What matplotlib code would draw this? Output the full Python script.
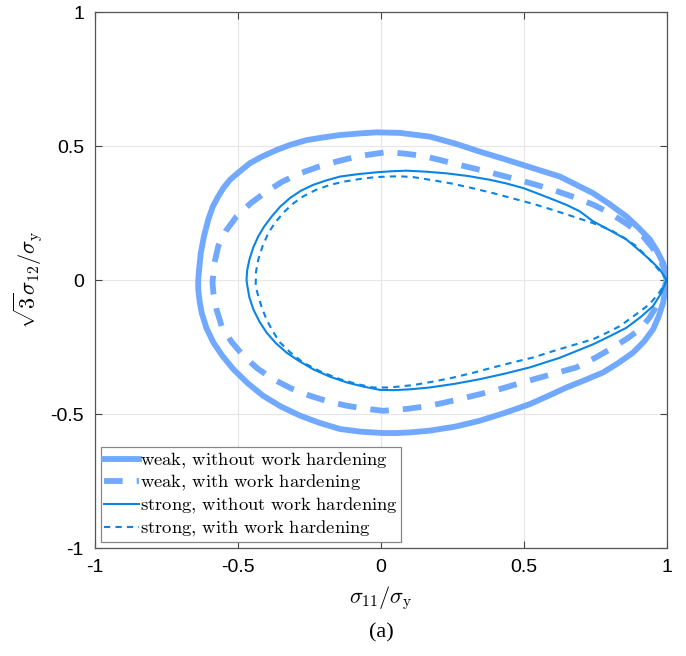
import matplotlib.pyplot as plt
import numpy as np

plt.rcParams['mathtext.fontset'] = 'cm'
plt.rcParams['font.family'] = ['Liberation Sans', 'DejaVu Sans']

# weak texture, without work hardening (thick solid)
weak_x = [1.0, 0.995, 0.987, 0.966, 0.941, 0.90, 0.859, 0.80, 0.742, 0.626, 0.56, 0.498, 0.42, 0.346, 0.26,
          0.171, 0.066, -0.015, -0.073, -0.143, -0.202, -0.260, -0.318, -0.365, -0.417, -0.458, -0.495, -0.528,
          -0.551, -0.569, -0.588, -0.604, -0.619, -0.630, -0.636, -0.639, -0.639, -0.634, -0.627, -0.61, -0.586,
          -0.553, -0.516, -0.466, -0.412, -0.35, -0.283, -0.215, -0.143, -0.07, 0.008, 0.055, 0.11, 0.171, 0.26,
          0.346, 0.43, 0.521, 0.59, 0.649, 0.71, 0.777, 0.83, 0.882, 0.92, 0.952, 0.972, 0.987, 0.995, 1.0]
weak_y = [0.0, 0.03, 0.064, 0.108, 0.151, 0.196, 0.237, 0.283, 0.324, 0.386, 0.408, 0.429, 0.455, 0.479, 0.509,
          0.535, 0.549, 0.551, 0.547, 0.541, 0.532, 0.522, 0.504, 0.485, 0.460, 0.436, 0.404, 0.374,
          0.343, 0.312, 0.274, 0.225, 0.163, 0.101, 0.039, 0.0, -0.035, -0.08, -0.122, -0.18, -0.233,
          -0.285, -0.333, -0.385, -0.432, -0.472, -0.506, -0.533, -0.556, -0.566, -0.571, -0.571, -0.568, -0.562,
          -0.547, -0.525, -0.497, -0.463, -0.43, -0.401, -0.375, -0.345, -0.31, -0.271, -0.23, -0.184, -0.135,
          -0.085, -0.035, 0.0]

# weak texture, with work hardening (thick dashed)
weakh_x = [1.0, 0.992, 0.976, 0.95, 0.917, 0.862, 0.801, 0.745, 0.684, 0.614, 0.544, 0.48, 0.416, 0.346, 0.276,
           0.21, 0.148, 0.08, 0.020, -0.08, -0.155, -0.22, -0.283, -0.345, -0.400, -0.455, -0.505, -0.543, -0.569,
           -0.583, -0.589, -0.586, -0.575, -0.557, -0.523, -0.481, -0.432, -0.377, -0.313, -0.248, -0.185, -0.120,
           -0.055, 0.008, 0.09, 0.160, 0.22, 0.276, 0.346, 0.416, 0.486, 0.556, 0.62, 0.684, 0.75, 0.812, 0.862,
           0.906, 0.94, 0.964, 0.985, 1.0]
weakh_y = [0.0, 0.04, 0.076, 0.12, 0.163, 0.208, 0.250, 0.28, 0.306, 0.332, 0.355, 0.374, 0.392, 0.411, 0.429,
           0.447, 0.463, 0.472, 0.477, 0.462, 0.442, 0.422, 0.398, 0.367, 0.330, 0.287, 0.237, 0.182, 0.126,
           0.06, -0.01, -0.048, -0.11, -0.172, -0.23, -0.283, -0.33, -0.370, -0.405, -0.432, -0.453, -0.469,
           -0.48, -0.488, -0.481, -0.471, -0.458, -0.444, -0.426, -0.407, -0.385, -0.364, -0.345, -0.326, -0.29,
           -0.252, -0.218, -0.184, -0.14, -0.097, -0.05, 0.0]

# strong texture, without work hardening (thin solid)
strong_x = [1.0, 0.975, 0.941, 0.90, 0.859, 0.80, 0.742, 0.696, 0.65, 0.603, 0.55, 0.498, 0.44, 0.381, 0.305,
            0.230, 0.16, 0.090, 0.04, -0.015, -0.08, -0.143, -0.19, -0.237, -0.28, -0.318, -0.352, -0.382, -0.408,
            -0.429, -0.447, -0.460, -0.468, -0.470, -0.467, -0.46, -0.446, -0.425, -0.400, -0.368, -0.330, -0.285,
            -0.237, -0.18, -0.120, -0.06, -0.003, 0.043, 0.10, 0.171, 0.26, 0.346, 0.435, 0.521, 0.626, 0.684,
            0.742, 0.80, 0.859, 0.91, 0.952, 0.98, 1.0]
strong_y = [0.0, 0.04, 0.076, 0.114, 0.151, 0.186, 0.219, 0.256, 0.28, 0.300, 0.322, 0.343, 0.36, 0.374, 0.388,
            0.398, 0.404, 0.408, 0.406, 0.402, 0.395, 0.386, 0.372, 0.355, 0.333, 0.306, 0.274, 0.237, 0.20,
            0.163, 0.12, 0.076, 0.035, 0.0, -0.023, -0.065, -0.110, -0.155, -0.196, -0.235, -0.271, -0.303,
            -0.333, -0.36, -0.382, -0.398, -0.410, -0.411, -0.408, -0.401, -0.387, -0.370, -0.349, -0.326, -0.29,
            -0.265, -0.240, -0.21, -0.178, -0.137, -0.097, -0.05, 0.0]

# strong texture, with work hardening (thin dashed)
strongh_x = [1.0, 0.97, 0.94, 0.894, 0.85, 0.801, 0.74, 0.672, 0.60, 0.533, 0.463, 0.393, 0.323, 0.253, 0.183,
             0.113, 0.066, 0.020, -0.027, -0.073, -0.125, -0.178, -0.228, -0.272, -0.31, -0.342, -0.37, -0.394,
             -0.414, -0.429, -0.437, -0.438, -0.429, -0.416, -0.400, -0.379, -0.353, -0.315, -0.272, -0.21, -0.143,
             -0.085, -0.027, 0.031, 0.113, 0.183, 0.253, 0.323, 0.393, 0.463, 0.533, 0.60, 0.672, 0.742, 0.79,
             0.836, 0.89, 0.94, 0.975, 1.0]
strongh_y = [0.0, 0.04, 0.076, 0.126, 0.158, 0.188, 0.213, 0.237, 0.262, 0.284, 0.304, 0.324, 0.342, 0.359, 0.372,
             0.384, 0.387, 0.386, 0.383, 0.377, 0.368, 0.355, 0.336, 0.312, 0.283, 0.250, 0.214, 0.175, 0.126,
             0.076, 0.03, -0.023, -0.060, -0.105, -0.147, -0.19, -0.233, -0.272, -0.308, -0.342, -0.370, -0.388,
             -0.401, -0.401, -0.392, -0.379, -0.364, -0.346, -0.326, -0.307, -0.289, -0.266, -0.243, -0.221, -0.197,
             -0.172, -0.13, -0.09, -0.045, 0.0]

labels = [r'$\mathrm{weak,\,without\ work\ hardening}$',
          r'$\mathrm{weak,\,with\ work\ hardening}$',
          r'$\mathrm{strong,\,without\ work\ hardening}$',
          r'$\mathrm{strong,\,with\ work\ hardening}$']

c_weak = '#70A9FF'
c_strong = '#0A84E6'

fig = plt.figure(figsize=(6.86, 6.56), dpi=100)
ax = fig.add_axes([0.1385, 0.1646, 0.8335, 0.8171])

ax.plot(weak_x, weak_y, '-', color=c_weak, lw=4.2, solid_joinstyle='round', label=labels[0])
ax.plot(weakh_x, weakh_y, '--', color=c_weak, lw=4.2, dashes=(3.2, 2.4), label=labels[1])
ax.plot(strong_x, strong_y, '-', color=c_strong, lw=1.5, solid_joinstyle='round', label=labels[2])
ax.plot(strongh_x, strongh_y, '--', color=c_strong, lw=1.5, dashes=(3, 2.5), label=labels[3])

ax.set_xlim(-1, 1)
ax.set_ylim(-1, 1)
ax.set_xticks([-1, -0.5, 0, 0.5, 1])
ax.set_yticks([-1, -0.5, 0, 0.5, 1])
ax.set_xticklabels(['-1', '-0.5', '0', '0.5', '1'])
ax.set_yticklabels(['-1', '-0.5', '0', '0.5', '1'])
ax.tick_params(direction='in', length=5, labelsize=14, top=True, right=True, color='#444444', pad=8)
ax.grid(True, color='#e6e6e6', lw=0.8)
ax.set_axisbelow(True)
for s in ax.spines.values():
    s.set_color('#555555')
    s.set_linewidth(0.9)

ax.set_xlabel(r'$\sigma_{11}/\sigma_{\rm y}$', fontsize=16, labelpad=6)
ax.set_ylabel(r'$\sqrt{3}\sigma_{12}/\sigma_{\rm y}$', fontsize=16, labelpad=4)

leg = ax.legend(loc='lower left', fontsize=13.4, fancybox=False, framealpha=1, edgecolor='#888888',
                handlelength=1.85, handletextpad=0.05, borderpad=0.2, labelspacing=0.14, borderaxespad=0.3)
leg.get_frame().set_linewidth(0.9)

fig.text(0.5555, 0.036, '(a)', ha='center', va='center', fontsize=16, family='Liberation Serif')

fig.savefig('out.png', dpi=100)
